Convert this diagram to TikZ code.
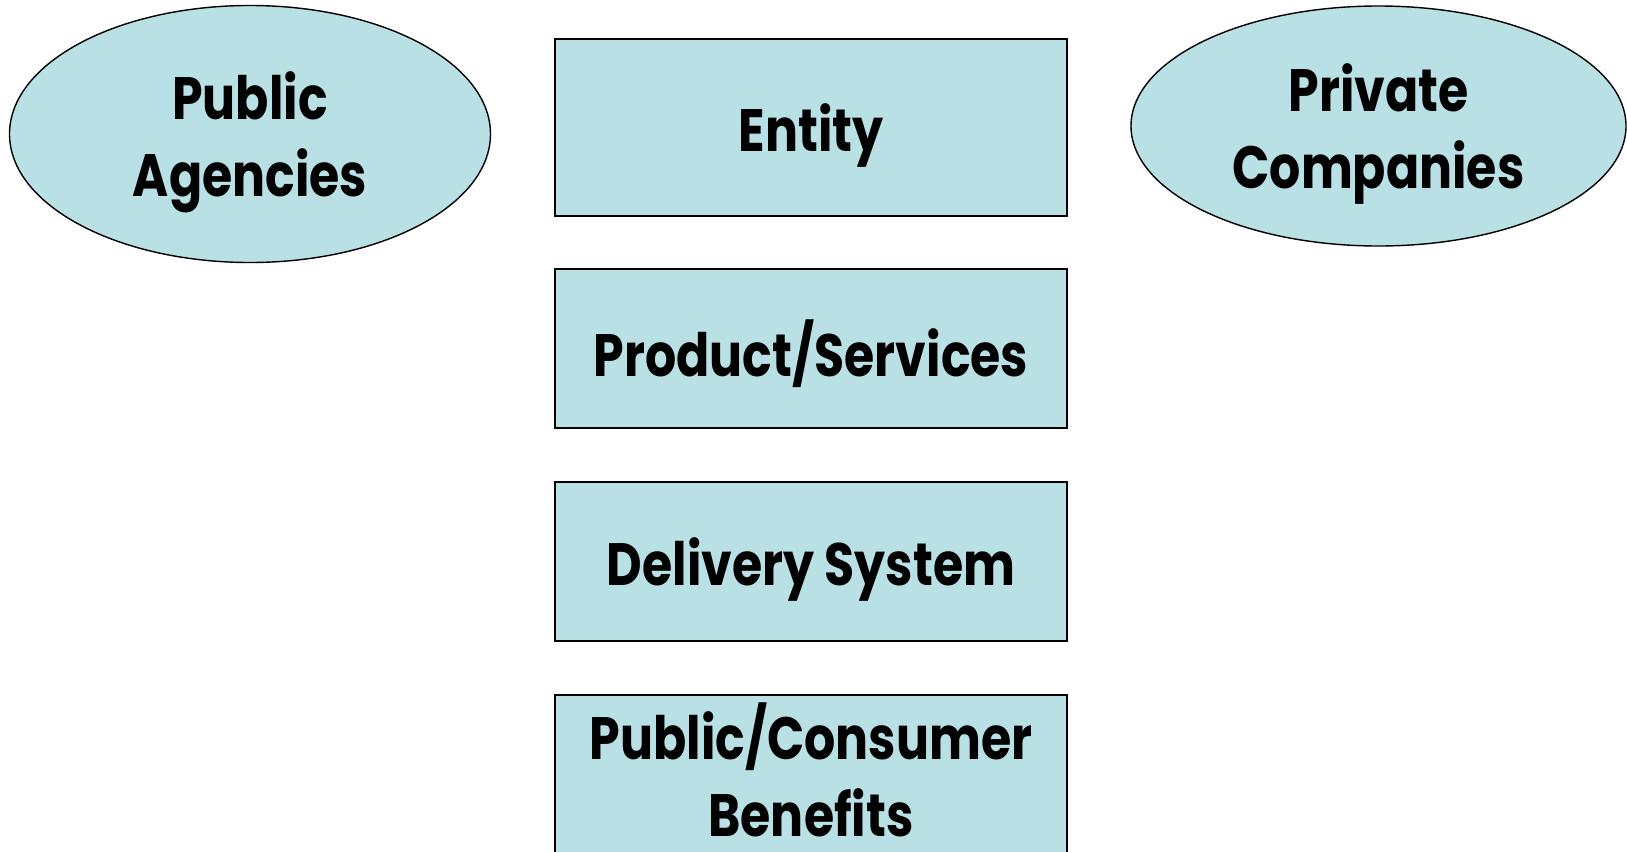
\documentclass[tikz,border=0pt]{standalone}
\usepackage{fontspec}
\setmainfont{Poppins}[FakeStretch=0.82]
\usepackage{tikz}
\usetikzlibrary{shapes}
\usepackage{xcolor}
\definecolor{paleblue}{RGB}{185,224,228}

\begin{document}
\begin{tikzpicture}[x=0.2mm,y=-0.2mm,
		box/.style={draw,fill=paleblue,line width=0.8pt,rectangle,minimum width=102.4mm,align=center,text depth=0pt,font=\fontsize{34}{44}\selectfont\bfseries},
		oval/.style={draw,fill=paleblue,line width=0.8pt,ellipse,inner sep=0pt,align=center,text depth=0pt,font=\fontsize{34}{44}\selectfont\bfseries}]
		\def\cx{811}
		\clip (0,0) rectangle (1627,851);
		\useasboundingbox (0,0) rectangle (1627,851);
		% the two sides
		\node[oval,minimum width=96.2mm,minimum height=51.4mm] (pub) at (250,134) {Public\\Agencies};
		\node[oval,minimum width=99mm,minimum height=48mm] (priv) at (1378.5,126) {Private\\Companies};
		% the middle column
		\node[box,minimum height=35.4mm] (entity) at (\cx,127.5) {Entity};
		\node[box,minimum height=31.8mm] (prod) at (\cx,348.5) {Product/Services};
		\node[box,minimum height=31.8mm] (deliv) at (\cx,561.5) {Delivery System};
		\node[box,minimum height=32mm,text depth=6pt] (benef) at (\cx,775) {Public/Consumer\\Benefits};
		\end{tikzpicture}
\end{document}
